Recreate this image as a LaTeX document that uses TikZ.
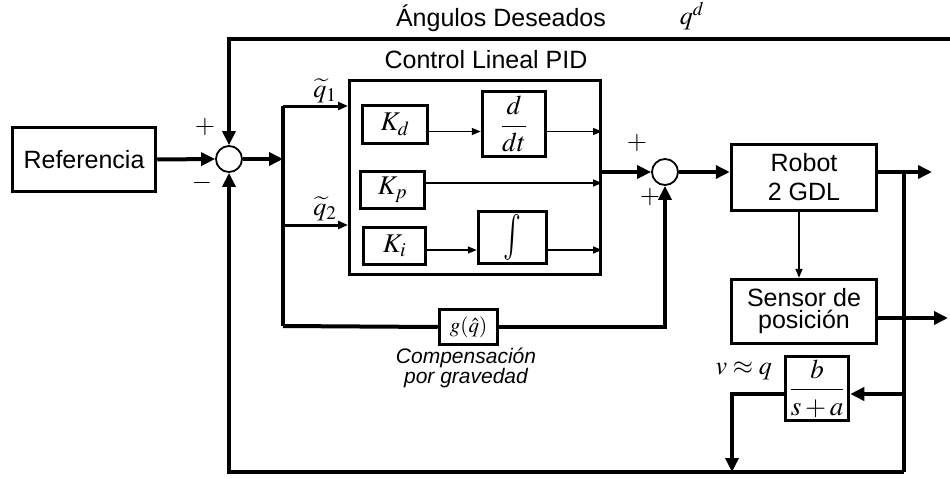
\documentclass[tikz,border=0pt]{standalone}
\usepackage{mathptmx}
\usepackage[no-math]{fontspec}
\setmainfont{Liberation Sans}
\usetikzlibrary{arrows.meta,calc}
\begin{document}
\begin{tikzpicture}[x=1pt,y=-1pt,
  blk/.style={draw, line width=3.5pt, inner sep=0pt, align=center, fill=white, font=\fontsize{25}{29}\selectfont},
  mblk/.style={draw, line width=3.5pt, inner sep=0pt, fill=white, font=\fontsize{27}{30}\selectfont},
  sumc/.style={draw, circle, line width=1.8pt, minimum size=26pt, inner sep=0pt, fill=white},
  thk/.style={line width=4pt},
  thkarr/.style={line width=4pt, -{Triangle[length=14pt,width=13pt]}},
  medarr/.style={line width=3pt, -{Triangle[length=10pt,width=8pt]}},
  thnarr/.style={line width=1.5pt, -{Triangle[length=9pt,width=7pt]}},
  lbl/.style={inner sep=0pt, font=\fontsize{25}{29}\selectfont},
  mlbl/.style={inner sep=0pt, font=\fontsize{26}{30}\selectfont}]
\useasboundingbox[fill=white] (0,0) rectangle (950,479);

% blocks
\node[blk, minimum width=143, minimum height=64] (ref) at (84,159.5) {Referencia};
\node[sumc] (s1) at (229,159) {};
\node[draw, line width=3pt, minimum width=251, minimum height=194, inner sep=0pt] (pid) at (475,177.5) {};
\node[mblk, minimum width=65, minimum height=38] (kd) at (395,124.5) {$K_d$};
\node[mblk, minimum width=63, minimum height=65] (ddt) at (514,124) {$\displaystyle\frac{d}{dt}$};
\node[mblk, minimum width=64, minimum height=37] (kp) at (392.5,190) {$K_p$};
\node[mblk, minimum width=62, minimum height=37] (ki) at (394.5,246) {$K_i$};
\node[mblk, minimum width=68, minimum height=52] (int) at (512.5,237.5) {\scalebox{1.1}[1.7]{$\int$}};
\node[sumc] (s2) at (665,172) {};
\node[blk, minimum width=145, minimum height=66] (robot) at (804,177.5) {Robot\\2 GDL};
\node[blk, minimum width=145, minimum height=64, font=\fontsize{25}{22}\selectfont] (sensor) at (804,311.5) {Sensor de\\posición};
\node[mblk, minimum width=63, minimum height=64] (tf) at (817,388.5) {$\displaystyle\frac{b}{s+a}$};
\node[mblk, minimum width=58, minimum height=35, font=\fontsize{21}{22}\selectfont] (g) at (468.5,327) {$g(\hat{q})$};

% coordinates
\coordinate (topR) at (950,39);
\coordinate (busm) at (283,159);
\coordinate (bus1) at (283,106);
\coordinate (bus2) at (283,225);
\coordinate (bus3) at (283,326);
\coordinate (j1) at (904,172);
\coordinate (jb) at (904,472);
\coordinate (out1) at (932,172);
\coordinate (out2) at (948,318);
\coordinate (tj) at (904,394);
\coordinate (tb) at (732,472);
\coordinate (kd1) at ([yshift=-7pt]kd.east);
\coordinate (kp1) at ([yshift=7pt]kp.east);
\coordinate (ki1) at ([yshift=-4pt]ki.east);
\coordinate (so) at ([yshift=-6.5pt]sensor.east);

% connectors
\draw[thkarr] (topR) -| (s1.north);
\draw[thkarr] (ref.east) -- (s1.west);
\draw[thkarr] (s1.east) -- (busm);
\draw[thk] (bus1) -- (bus3);
\draw[medarr] (bus1) -- (bus1 -| pid.west);
\draw[medarr] (bus2) -- (bus2 -| pid.west);
\draw[thnarr] (kd1) -- (kd1 -| ddt.west);
\draw[thnarr] (kd1 -| ddt.east) -- (kd1 -| pid.east);
\draw[thnarr] (kp1) -- (kp1 -| pid.east);
\draw[thnarr] (ki1) -- (ki1 -| int.west);
\draw[thnarr] (ki1 -| int.east) -- (ki1 -| pid.east);
\draw[thkarr] (s2 -| pid.east) -- (s2.west);
\draw[thkarr] (s2.east) -- (s2 -| robot.west);
\draw[thkarr] (s2 -| robot.east) -- (out1);
\draw[thk] (j1) -- (jb);
\draw[thkarr] (jb) -| (s1.south);
\draw[thnarr] ([xshift=-5pt]robot.south) -- ([xshift=-5pt]sensor.north);
\draw[thkarr] (so) -- (out2);
\draw[thkarr] (tj) -- (tj -| tf.east);
\draw[thkarr] (tj -| tf.west) -| (tb);
\draw[thk] (bus3) -- (g.west);
\draw[thkarr] (g.east) -| (s2.south);

% labels
\node[lbl] (lang) at (501,18) {Ángulos Deseados};
\node[mlbl] (lqd) at (692,16) {$q^d$};
\node[lbl] (lpid) at (486,60) {Control Lineal PID};
\node[mlbl] (lq1) at (325,91) {$\widetilde{q}_1$};
\node[mlbl] (lq2) at (325,209) {$\widetilde{q}_2$};
\node[mlbl] (p1) at (205,127) {$+$};
\node[mlbl] (m1) at (202,183) {$-$};
\node[mlbl] (p2) at (637,143) {$+$};
\node[mlbl] (p3) at (650,197) {$+$};
\node[mlbl, anchor=east] (lv) at (772,371) {$v\approx q$};
\node[inner sep=0pt, align=center, font=\fontsize{21}{17}\itshape] (lcomp) at (466,368) {Compensación\\por gravedad};
\end{tikzpicture}
\end{document}
